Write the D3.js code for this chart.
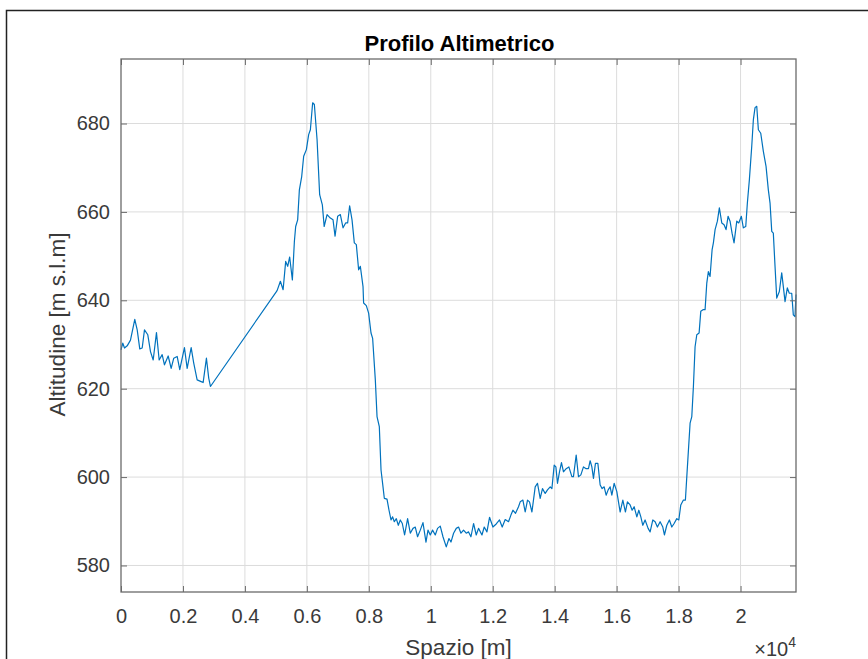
<!DOCTYPE html>
<html>
<head>
<meta charset="utf-8">
<script src="https://cdn.jsdelivr.net/npm/d3@7"></script>
<style>
  body { margin: 0; background: #fff; }
  text { font-family: "Liberation Sans", Arial, Helvetica, sans-serif; }
</style>
</head>
<body>
<div id="chart"></div>
<script>
// Distance along the track [m]
const spazio = [
  0, 58, 113, 200, 306, 445, 523, 606, 684, 758, 865, 952, 1039, 1145, 1232, 1329, 1403, 1523,
  1619, 1703, 1813, 1897, 2048, 2136, 2265, 2348, 2458, 2587, 2652, 2758, 2832, 2887,
  5039, 5145, 5233, 5316, 5381, 5445, 5532, 5597, 5639, 5703, 5758, 5833, 5897, 5984, 6058,
  6113, 6187, 6242, 6329, 6413, 6500, 6558, 6652, 6758, 6845, 6910, 6994, 7081, 7168, 7252,
  7316, 7381, 7458, 7532, 7597, 7671, 7726, 7813, 7832, 7919, 7994, 8071, 8123, 8210, 8265,
  8339, 8394, 8458, 8500, 8587, 8652, 8716, 8768, 8823, 8887, 8952, 9016, 9081, 9155, 9252,
  9339, 9426, 9500, 9574, 9661, 9748, 9845, 9910, 9984, 10058, 10145, 10219, 10306, 10394,
  10500, 10587, 10652, 10736, 10823, 10897, 10974, 11058, 11145, 11219, 11297, 11381, 11468,
  11542, 11652, 11726, 11813, 11897, 12006, 12113, 12219, 12306, 12403, 12510, 12587, 12652,
  12736, 12832, 12887, 12974, 13048, 13123, 13187, 13265, 13371, 13445, 13532, 13606, 13694,
  13768, 13855, 13910, 13984, 14039, 14090, 14155, 14219, 14284, 14371, 14458, 14555, 14606,
  14694, 14768, 14845, 14929, 15016, 15090, 15145, 15200, 15252, 15316, 15394, 15468, 15532,
  15597, 15661, 15726, 15790, 15845, 15919, 16006, 16113, 16200, 16284, 16348, 16436, 16500,
  16565, 16652, 16716, 16781, 16845, 16919, 17016, 17081, 17168, 17242, 17316, 17403, 17490,
  17542, 17619, 17703, 17781, 17855, 17942, 18007, 18071, 18155, 18220, 18265, 18371, 18426,
  18478, 18532, 18587, 18662, 18716, 18800, 18855, 18910, 18961, 19016, 19081, 19123, 19178,
  19252, 19316, 19394, 19468, 19532, 19597, 19661, 19726, 19790, 19878, 19942, 20026, 20090,
  20168, 20220, 20285, 20362, 20414, 20468, 20523, 20575, 20652, 20736, 20823, 20897, 20952,
  21007, 21058, 21113, 21168, 21252, 21329, 21381, 21436, 21510, 21574, 21652, 21703, 21758, 21790
];

// Altitude [m s.l.m]
const altitudine = [
  628.8, 630.3, 629.2, 629.7, 631.0, 635.7, 633.3, 629.0, 629.2, 633.3, 632.2, 628.4, 626.5, 632.7,
  626.5, 627.7, 625.4, 627.4, 624.6, 626.9, 627.3, 624.3, 629.3, 624.6, 629.3, 625.8, 622.0, 621.6,
  621.4, 626.9, 622.4, 620.5,
  642.2, 644.3, 642.4, 648.8, 647.7, 649.8, 644.6, 653.3, 656.7, 658.2, 665.0, 668.0, 672.6, 674.1,
  677.5, 678.6, 684.7, 684.3, 676.4, 663.9, 661.6, 656.7, 659.4, 658.6, 658.2, 654.5, 659.0, 659.4,
  656.4, 657.5, 657.5, 661.4, 658.2, 653.0, 652.6, 646.9, 647.7, 643.1, 639.4, 638.8, 637.1, 632.6,
  631.4, 622.0, 613.7, 611.4, 601.6, 597.8, 595.2, 595.0, 592.5, 590.3, 591.0, 589.9, 590.6, 589.1,
  590.3, 589.5, 586.9, 590.6, 587.3, 588.4, 588.7, 586.5, 588.0, 589.7, 585.3, 588.0, 586.9, 588.0,
  586.9, 588.4, 588.9, 586.5, 584.2, 586.1, 585.3, 587.3, 588.4, 588.7, 587.3, 588.0, 587.3, 587.6,
  586.5, 589.5, 586.9, 588.4, 586.9, 588.7, 587.6, 590.9, 588.7, 589.4, 590.3, 588.7, 590.4, 589.9,
  591.4, 592.5, 591.8, 593.3, 594.4, 594.8, 592.1, 594.8, 594.4, 592.1, 597.8, 598.6, 595.2, 597.4,
  596.3, 597.1, 597.8, 597.4, 602.7, 602.3, 598.6, 601.2, 603.3, 601.2, 601.9, 602.3, 600.1, 600.1,
  605.0, 600.1, 600.5, 602.3, 601.9, 601.9, 603.7, 602.3, 599.7, 603.1, 603.1, 598.2, 597.4, 597.8,
  595.9, 597.1, 597.8, 595.9, 598.6, 596.7, 592.1, 594.8, 592.1, 594.4, 593.7, 592.5, 593.3, 591.0,
  592.5, 591.0, 589.1, 590.3, 588.4, 587.6, 590.3, 589.9, 588.7, 589.9, 588.7, 586.9, 589.1, 590.3,
  588.7, 589.5, 590.6, 590.3, 593.7, 594.8, 594.8, 600.1, 612.2, 613.7, 620.5, 629.5, 632.2, 632.6,
  637.5, 637.9, 637.9, 643.9, 646.5, 645.4, 651.4, 653.0, 656.0, 657.9, 660.9, 657.5, 657.1, 656.0,
  659.0, 657.9, 655.2, 653.0, 657.9, 657.5, 659.0, 656.4, 656.7, 662.0, 667.3, 674.9, 680.9, 683.6,
  683.9, 678.6, 677.8, 673.7, 670.3, 665.0, 662.0, 655.6, 655.2, 647.7, 640.5, 642.0, 646.2, 643.1,
  639.7, 642.8, 641.6, 641.6, 636.7, 636.3, 641.3
];

const xTicks = d3.range(0, 20001, 2000);
const yTicks = [580, 600, 620, 640, 660, 680];
const xDomain = [0, 21790];
const yDomain = [574, 694.6];

const width = 868, height = 659;
const plot = { left: 121, right: 796, top: 59, bottom: 592 };

const svg = d3.select('#chart')
    .append('svg')
    .attr('width', width)
    .attr('height', height);

svg.append('rect').attr('width', width).attr('height', height).attr('fill', '#fff');

// figure frame (top and left edge visible)
svg.append('path')
    .attr('d', `M6.5,${height} V10.5 H${width}`)
    .attr('fill', 'none')
    .attr('stroke', '#222')
    .attr('stroke-width', 1.5);

const x = d3.scaleLinear().domain(xDomain).range([plot.left, plot.right]);
const y = d3.scaleLinear().domain(yDomain).range([plot.bottom, plot.top]);

// grid
const grid = svg.append('g').attr('stroke', '#dcdcdc').attr('stroke-width', 1);
grid.selectAll('.gx').data(xTicks.slice(1)).enter().append('line')
    .attr('x1', d => x(d)).attr('x2', d => x(d))
    .attr('y1', plot.top).attr('y2', plot.bottom);
grid.selectAll('.gy').data(yTicks).enter().append('line')
    .attr('x1', plot.left).attr('x2', plot.right)
    .attr('y1', d => y(d)).attr('y2', d => y(d));

// line
const line = d3.line()
    .x((d, i) => x(spazio[i]))
    .y(d => y(d));

svg.append('path')
    .datum(altitudine)
    .attr('d', line)
    .attr('fill', 'none')
    .attr('stroke', '#0072BD')
    .attr('stroke-width', 1.2)
    .attr('stroke-linejoin', 'round');

// axes (MATLAB style: ticks inside, box on)
const axisColor = '#6b6b6b';
const textColor = '#3a3a3a';
const tickLen = 6;

function styleAxis(g) {
    g.select('.domain').remove();
    g.selectAll('.tick line').attr('stroke', axisColor).attr('stroke-width', 1);
    g.selectAll('.tick text')
        .attr('fill', textColor)
        .style('font-size', '20px');
}

svg.append('g')
    .attr('transform', `translate(0,${plot.bottom})`)
    .call(d3.axisBottom(x).tickValues(xTicks).tickSizeInner(-tickLen).tickSizeOuter(0)
        .tickPadding(17).tickFormat(d => d === 0 ? '0' : d3.format('.1~f')(d / 1e4)))
    .call(styleAxis);

svg.append('g')
    .attr('transform', `translate(0,${plot.top})`)
    .call(d3.axisTop(x).tickValues(xTicks).tickSizeInner(-tickLen).tickSizeOuter(0).tickFormat(''))
    .call(styleAxis);

svg.append('g')
    .attr('transform', `translate(${plot.left},0)`)
    .call(d3.axisLeft(y).tickValues(yTicks).tickSizeInner(-tickLen).tickSizeOuter(0).tickPadding(11))
    .call(styleAxis);

svg.append('g')
    .attr('transform', `translate(${plot.right},0)`)
    .call(d3.axisRight(y).tickValues(yTicks).tickSizeInner(-tickLen).tickSizeOuter(0).tickFormat(''))
    .call(styleAxis);

// box
svg.append('rect')
    .attr('x', plot.left).attr('y', plot.top)
    .attr('width', plot.right - plot.left).attr('height', plot.bottom - plot.top)
    .attr('fill', 'none')
    .attr('stroke', axisColor)
    .attr('stroke-width', 1.3);

// labels
svg.append('text')
    .attr('x', (plot.left + plot.right) / 2 + 1).attr('y', 51)
    .attr('text-anchor', 'middle')
    .style('font-size', '22px').style('font-weight', 'bold')
    .attr('fill', '#000')
    .text('Profilo Altimetrico');

svg.append('text')
    .attr('x', (plot.left + plot.right) / 2).attr('y', 655)
    .attr('text-anchor', 'middle')
    .style('font-size', '22.5px')
    .attr('fill', textColor)
    .text('Spazio [m]');

svg.append('text')
    .attr('transform', `translate(65,${(plot.top + plot.bottom) / 2 - 1}) rotate(-90)`)
    .attr('text-anchor', 'middle')
    .style('font-size', '22.5px')
    .attr('fill', textColor)
    .text('Altitudine [m s.l.m]');

// exponent label
const expo = svg.append('text')
    .attr('x', plot.right).attr('y', 656)
    .attr('text-anchor', 'end')
    .attr('fill', textColor)
    .style('font-size', '20px');
expo.append('tspan').text('\u00d710');
expo.append('tspan').attr('dy', -9).style('font-size', '14px').text('4');
</script>
</body>
</html>
